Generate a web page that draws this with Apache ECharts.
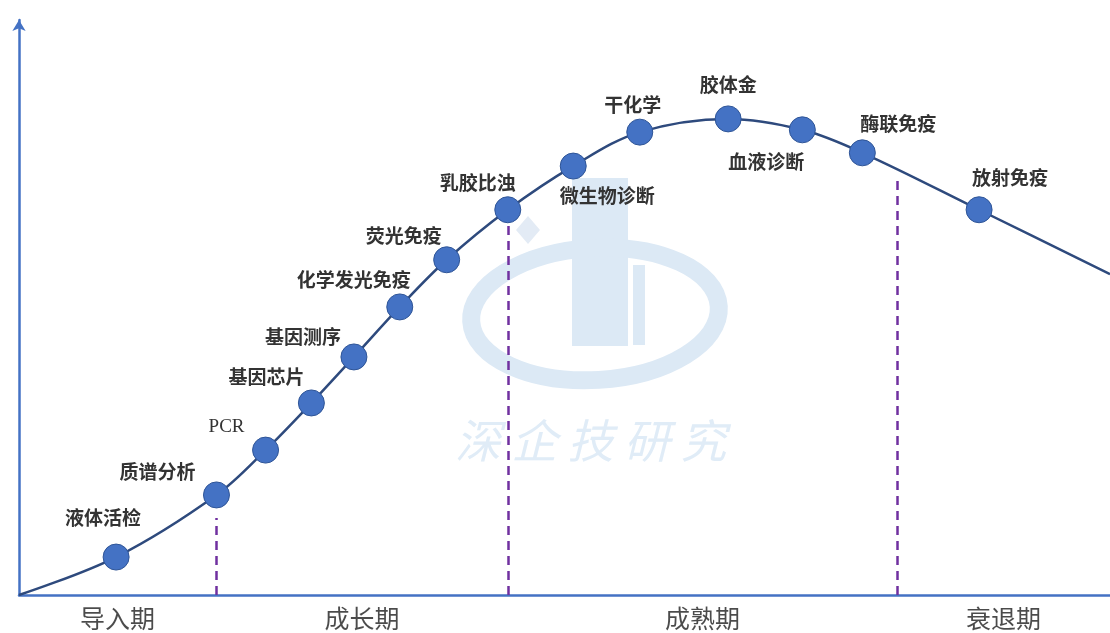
<!DOCTYPE html>
<html>
<head>
<meta charset="utf-8">
<script src="https://cdn.jsdelivr.net/npm/echarts@6/dist/echarts.min.js"></script>
<style>
html,body{margin:0;padding:0;background:#fff;}
#chart{width:1110px;height:633px;}
</style>
</head>
<body>
<div id="chart"></div>
<script>
// ---- data ----
const techNames = ['液体活检','质谱分析','PCR','基因芯片','基因测序','化学发光免疫','荧光免疫','乳胶比浊','微生物诊断','干化学','胶体金','血液诊断','酶联免疫','放射免疫'];
const techX = [8.9, 18.1, 22.6, 26.8, 30.7, 34.9, 39.2, 44.8, 50.8, 56.9, 65.0, 71.8, 77.3, 88.0];
const techY = [6.6, 17.4, 25.2, 33.4, 41.4, 50.1, 58.3, 67.0, 74.6, 80.5, 82.8, 80.9, 76.9, 67.0];
const curveStart = [0, 0];
const curveEnd = [100, 55.8];
const stageNames = ['导入期','成长期','成熟期','衰退期'];
const stageBounds = [0, 18.06, 44.82, 80.48, 100];
const dividerTop = [13.4, 64.9, 72.5];

// ---- label placement (style) ----
const labelOffsets = [[-13,-39],[-59,-23],[-39,-23],[-45,-26],[-51,-20],[-46,-27],[-43,-24],[-30,-27],[34,30],[-7,-27],[0,-34],[-36,32],[36,-29],[31,-32]];

const curveData = [curveStart].concat(techX.map((x,i)=>[x, techY[i]])).concat([curveEnd]);
const dotData = techNames.map((n,i)=>({
  name: n,
  value: [techX[i], techY[i]],
  label: {
    show: true, position: 'inside', offset: labelOffsets[i],
    formatter: n,
    fontFamily: n === 'PCR' ? 'Liberation Serif' : 'Noto Sans CJK SC',
    fontWeight: n === 'PCR' ? 'normal' : 'bold',
    fontSize: n === 'PCR' ? 19 : 19,
    color: '#333333'
  }
}));
const stageData = stageNames.map((n,i)=>({name:n, value:[(stageBounds[i]+stageBounds[i+1])/2, 0]}));
const dividerLines = dividerTop.map((t,i)=>[{coord:[stageBounds[i+1],0]},{coord:[stageBounds[i+1],t]}]);

const chart = echarts.init(document.getElementById('chart'), null, {renderer:'canvas'});
const wmColor = '#dce9f5';
chart.setOption({
  animation: false,
  backgroundColor: '#ffffff',
  grid: {left: 19, right: 0, top: 20, bottom: 38, containLabel: false},
  xAxis: {
    type: 'value', min: 0, max: 100,
    axisLine: {show: true, onZero: false, lineStyle: {color: '#4472C4', width: 2.5}},
    axisTick: {show: false}, axisLabel: {show: false}, splitLine: {show: false}
  },
  yAxis: {
    type: 'value', min: 0, max: 100,
    axisLine: {show: true, onZero: false, symbol: ['none','arrow'], symbolSize: [10, 11], symbolOffset: [0, 0],
      lineStyle: {color: '#4472C4', width: 2.5}},
    axisTick: {show: false}, axisLabel: {show: false}, splitLine: {show: false}
  },
  graphic: [
    {type:'group', z: -10, silent: true, children: [
      {type:'rect', shape:{x:572, y:178, width:56, height:168}, style:{fill:wmColor}},
      {type:'rect', shape:{x:633, y:265, width:12, height:80}, style:{fill:wmColor}},
      {type:'polygon', shape:{points:[[540,230],[528,216],[516,230],[528,244]]}, style:{fill:'#e3ebf5'}},
      {type:'ellipse', shape:{cx:595, cy:314, rx:124, ry:66}, rotation: 0.06, originX:595, originY:314,
        style:{fill:'none', stroke:wmColor, lineWidth:18}},
      {type:'text', x:455, y:418, style:{text:'深 企 技 研 究', font:'italic 46px "Noto Sans CJK SC"', fill:'#e0ecf7'}}
    ]}
  ],
  series: [
    {
      type: 'line', data: curveData, smooth: 0.35, showSymbol: false, symbol: 'none',
      lineStyle: {color: '#2E4A7D', width: 2.5}, z: 2, silent: true,
      markLine: {
        silent: true, symbol: ['none','none'], label: {show: false},
        lineStyle: {color: '#7030A0', width: 2.5, type: [9, 6]},
        data: dividerLines
      }
    },
    {
      type: 'scatter', data: dotData, symbolSize: 26, z: 5,
      itemStyle: {color: '#4472C4', borderColor: '#2F5597', borderWidth: 1, opacity: 1}
    },
    {
      type: 'scatter', data: stageData, symbolSize: 0, z: 5, silent: true,
      label: {show: true, position: 'inside', offset: [0, 23], formatter: '{b}',
        fontFamily: 'Noto Sans CJK SC', fontSize: 25, color: '#1e1e1e'}
    }
  ]
});
</script>
</body>
</html>
